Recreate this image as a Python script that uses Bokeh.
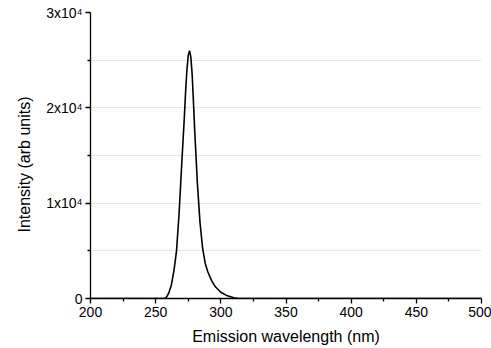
from bokeh.plotting import figure
from bokeh.models import FixedTicker, Range1d, Title
from bokeh.embed import file_html
from bokeh.resources import INLINE

wavelength = [200, 257, 258, 260, 262, 264, 266, 268, 270, 272, 273, 274, 275, 276, 277, 278, 279, 280,
              282, 284, 286, 288, 290, 293, 296, 300, 305, 310, 314, 500]
intensity = [0, 0, 100, 550, 1400, 2900, 5000, 9000, 14100, 19000, 21800, 24000, 25500, 26000, 25300, 23500, 20600, 17500,
             12100, 8000, 5300, 3700, 2800, 1850, 1200, 650, 280, 80, 0, 0]

x_ticks = [200, 250, 300, 350, 400, 450, 500]
x_minor = [225, 275, 325, 375, 425, 475]
y_ticks = [0, 10000, 20000, 30000]
y_minor = [5000, 15000, 25000]
y_labels = {0: "0", 10000: "1x10\u2074", 20000: "2x10\u2074", 30000: "3x10\u2074"}

FONT = "Liberation Sans"

p = figure(width=491, height=348, output_backend="svg", toolbar_location=None,
           x_range=Range1d(200, 500), y_range=Range1d(0, 30000),
           min_border_left=90, min_border_right=10, min_border_top=12, min_border_bottom=50)
p.outline_line_color = None
p.background_fill_color = "white"

p.line(wavelength, intensity, line_color="black", line_width=1.6)

p.xaxis.ticker = FixedTicker(ticks=x_ticks, minor_ticks=x_minor)
p.yaxis.ticker = FixedTicker(ticks=y_ticks, minor_ticks=y_minor)
p.yaxis.major_label_overrides = y_labels

for ax in (p.xaxis, p.yaxis):
    ax.axis_line_color = "black"
    ax.axis_line_width = 1.3
    ax.major_tick_line_color = "black"
    ax.minor_tick_line_color = "black"
    ax.major_tick_line_width = 1.3
    ax.minor_tick_line_width = 1.3
    ax.major_tick_out = 5
    ax.major_tick_in = 0
    ax.minor_tick_out = 3
    ax.minor_tick_in = 0
    ax.major_label_text_font = FONT
    ax.major_label_text_font_size = "14px"
    ax.major_label_text_color = "black"
    ax.axis_label_text_font = FONT
    ax.axis_label_text_font_size = "16px"
    ax.axis_label_text_font_style = "normal"
    ax.axis_label_text_color = "black"

p.xaxis.axis_label = "Emission wavelength (nm)"
p.yaxis.major_label_standoff = 3
p.xaxis.major_label_standoff = 3
p.xaxis.axis_label_standoff = 8

ytitle = Title(text="Intensity (arb units)", align="left", offset=66, standoff=22,
               text_font=FONT, text_font_size="16px", text_font_style="normal",
               text_color="black")
p.add_layout(ytitle, "left")

p.xgrid.grid_line_color = None
p.ygrid.ticker = FixedTicker(ticks=[5000, 10000, 15000, 20000, 25000])
p.ygrid.grid_line_color = "#e6e6e6"
p.ygrid.grid_line_width = 1

open("out.html", "w").write(file_html(p, INLINE))
